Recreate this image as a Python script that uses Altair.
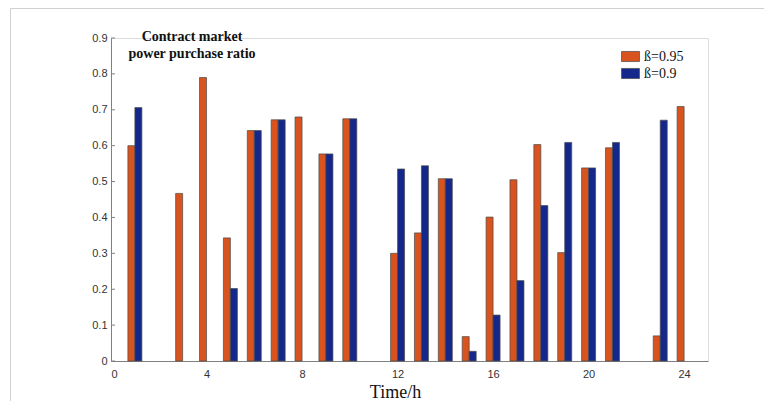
import altair as alt
import pandas as pd

# Hourly contract-market purchase ratio for two confidence levels
hours = list(range(1, 25))
beta_095 = [0.600, 0.0, 0.467, 0.790, 0.343, 0.642, 0.672, 0.680, 0.577, 0.675, 0.0, 0.300,
            0.357, 0.508, 0.068, 0.401, 0.505, 0.603, 0.302, 0.538, 0.594, 0.0, 0.070, 0.709]
beta_090 = [0.706, 0.0, 0.0, 0.0, 0.202, 0.642, 0.672, 0.0, 0.577, 0.675, 0.0, 0.535,
            0.544, 0.508, 0.027, 0.128, 0.224, 0.433, 0.609, 0.538, 0.609, 0.0, 0.671, 0.0]
series_names = ["ß=0.95", "ß=0.9"]
series_colors = ["#D9531E", "#14288C"]
x_ticks = [0, 4, 8, 12, 16, 20, 24]
y_ticks = [0, 0.1, 0.2, 0.3, 0.4, 0.5, 0.6, 0.7, 0.8, 0.9]

rows = []
for h, a, b in zip(hours, beta_095, beta_090):
    rows.append({"hour": h, "series": series_names[0], "ratio": a})
    rows.append({"hour": h, "series": series_names[1], "ratio": b})
df = pd.DataFrame(rows)

x_scale = alt.Scale(domain=[0, 25], nice=False, zero=False, padding=0)
y_scale = alt.Scale(domain=[0, 0.9], nice=False, padding=0)
color_scale = alt.Scale(domain=series_names, range=series_colors)

legend_rect = "M-1,-0.56H1V0.56H-1Z"

x_axis = alt.Axis(values=x_ticks, title="Time/h", grid=False, tickSize=0,
                  labelPadding=7, labelFont="Liberation Sans", labelFontSize=11,
                  labelColor="#333333", domainColor="#808080", labelOverlap=False,
                  titleFont="Liberation Serif", titleFontSize=18,
                  titleFontWeight="normal", titleColor="#111111",
                  titleX=284, titleY=36, titleAlign="center",
                  titleBaseline="alphabetic")
y_axis = alt.Axis(values=y_ticks, title=None, grid=False, tickSize=0,
                  labelPadding=4, labelFont="Liberation Sans", labelFontSize=11,
                  labelColor="#333333", domainColor="#808080", labelOverlap=False,
                  format=".1~f")

base = alt.Chart(df)


def bars(name, shift):
    return base.transform_filter(
        (alt.datum.series == name) & (alt.datum.ratio > 0)
    ).mark_bar(size=7, xOffset=shift, stroke="#4a4a4a", strokeWidth=0.7).encode(
        x=alt.X("hour:Q", scale=x_scale, axis=x_axis),
        y=alt.Y("ratio:Q", scale=y_scale, axis=y_axis),
        color=alt.Color("series:N", scale=color_scale, sort=series_names,
                        legend=alt.Legend(title=None, orient="none", legendX=510, legendY=9,
                                          symbolType=legend_rect, symbolSize=324,
                                          symbolStrokeColor="#4a4a4a", symbolStrokeWidth=0.7,
                                          symbolOpacity=1, labelOffset=4, rowPadding=-5,
                                          labelFont="Liberation Serif", labelFontSize=14,
                                          labelColor="#111111")),
    )


orange = bars(series_names[0], -3.5)
blue = bars(series_names[1], 3.5)

# inward tick marks on the y axis
ytick_marks = alt.Chart(pd.DataFrame({"v": y_ticks})).mark_rule(
    color="#808080", strokeWidth=1
).encode(x=alt.value(0), x2=alt.value(4),
         y=alt.Y("v:Q", scale=y_scale, axis=y_axis))

# thin page frame on the left and top
frame_left = alt.Chart(alt.Data(values=[{}])).mark_rule(color="#d0d0d0", strokeWidth=1).encode(
    x=alt.value(-100.5), y=alt.value(-29.5), y2=alt.value(400))
frame_top = alt.Chart(alt.Data(values=[{}])).mark_rule(color="#d0d0d0", strokeWidth=1).encode(
    x=alt.value(-100.5), x2=alt.value(660), y=alt.value(-29.5))

chart = alt.layer(frame_left, frame_top, orange, blue, ytick_marks).properties(
    width=597, height=323,
    autosize=alt.AutoSizeParams(type="none"),
    padding={"left": 111, "top": 38, "right": 56, "bottom": 40},
    title=alt.TitleParams(["Contract market", "power purchase ratio"],
                          font="Liberation Serif", fontSize=14, fontWeight="bold",
                          color="#111111", anchor="middle", dx=-217.5, dy=57,
                          lineHeight=17),
).resolve_axis(y="shared").configure_view(stroke=None).configure(background="white")

chart.save("out.html", embed_options={"renderer": "svg", "actions": False})
